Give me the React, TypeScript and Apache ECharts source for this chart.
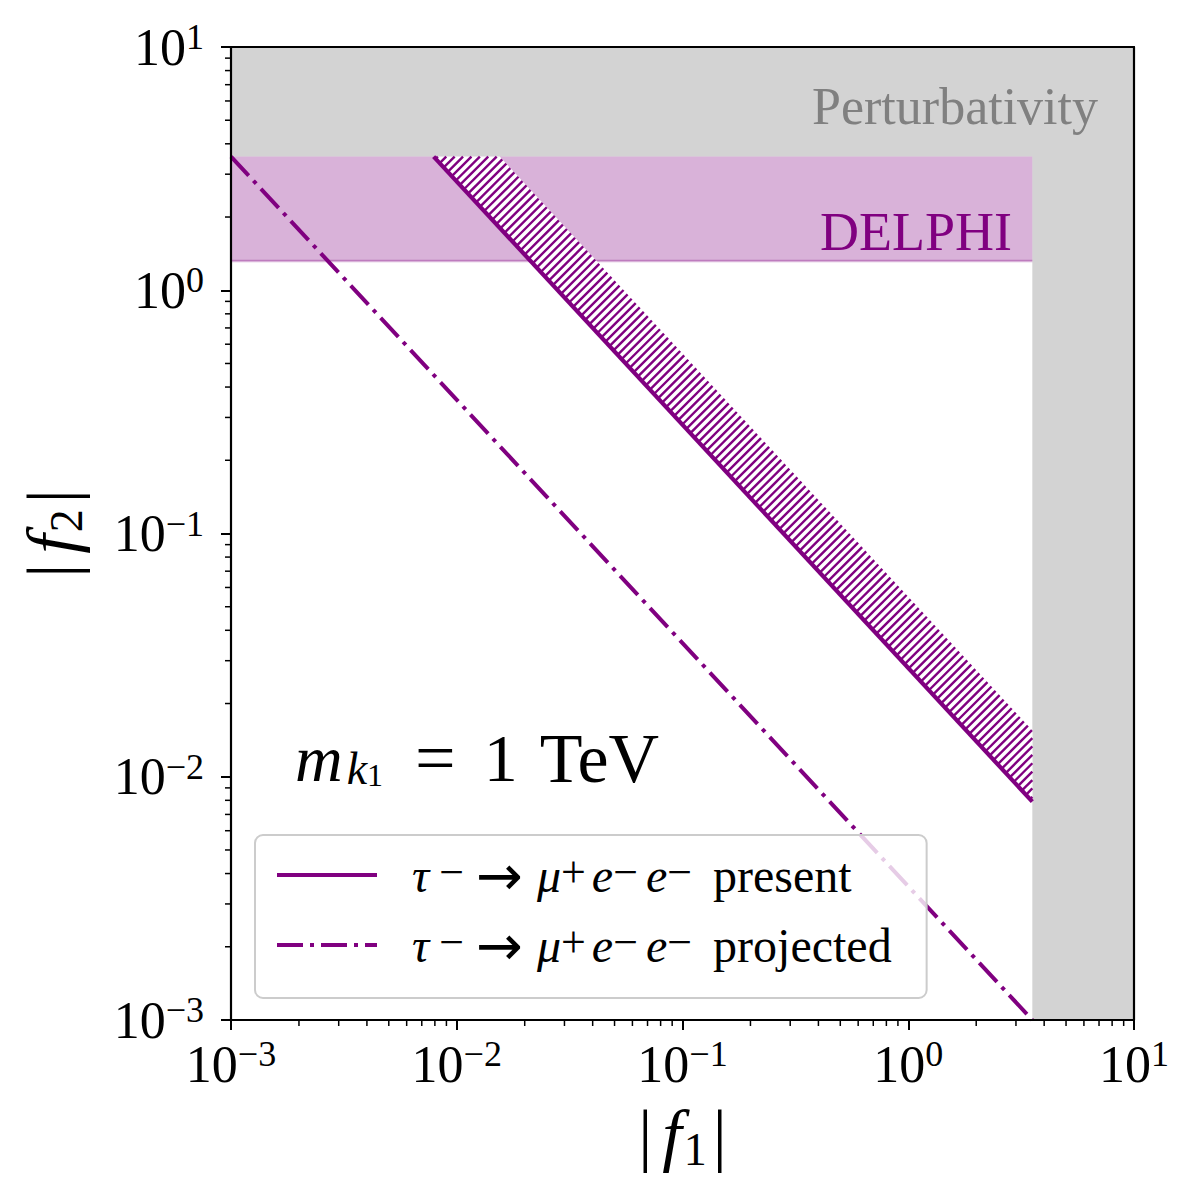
import React, { useEffect, useRef } from "react";
import * as echarts from "echarts";

// ---- data ----
const axisMin = 1e-3;
const axisMax = 1e1;
const perturbRegion: number[][] = [
  [1e-3, 3.545], [3.545, 3.545], [3.545, 1e-3], [10, 1e-3], [10, 10], [1e-3, 10],
];
const delphiRegion: number[][] = [
  [1e-3, 1.32], [3.545, 1.32], [3.545, 3.545], [1e-3, 3.545],
];
const presentLine: number[][] = [[0.0079, 3.545], [3.545, 0.0079]];
const hatchUpperEdge: number[][] = [[0.0155, 3.545], [3.545, 0.0155]];
const projectedLine: number[][] = [[1e-3, 3.545], [3.545, 1e-3]];
const hatchRegion: number[][] = [presentLine[0], hatchUpperEdge[0], hatchUpperEdge[1], presentLine[1]];
const decades = [1e-3, 1e-2, 1e-1, 1, 10];
const minorMultipliers = [2, 3, 4, 5, 6, 7, 8, 9];
const minorTicks = decades.slice(0, -1).flatMap((d) => minorMultipliers.map((m) => m * d));
const seriesNames = ["τ⁻ → μ⁺e⁻e⁻ present", "τ⁻ → μ⁺e⁻e⁻ projected"];
const legendSuffix = ["present", "projected"];

const PURPLE = "#800080";
const FONT = "Liberation Serif";

function polygonSeries(name: string, pts: number[][], style: any, z: number, bottomEdge?: any) {
  return {
    type: "custom",
    name,
    data: pts,
    z,
    silent: true,
    renderItem: (params: any, api: any) => {
      if (params.dataIndex !== 0) return null;
      const points = pts.map((p) => api.coord(p));
      const children: any[] = [{ type: "polygon", shape: { points }, style }];
      if (bottomEdge) {
        children.push({
          type: "line",
          shape: { x1: points[0][0], y1: points[0][1], x2: points[1][0], y2: points[1][1] },
          style: bottomEdge,
        });
      }
      return { type: "group", children };
    },
  };
}

function hatchSeries() {
  const step = 8.4;
  return {
    type: "custom",
    name: "hatch",
    data: hatchRegion,
    z: 3,
    silent: true,
    renderItem: (params: any, api: any) => {
      if (params.dataIndex !== 0) return null;
      const pts: number[][] = hatchRegion.map((p) => api.coord(p));
      const sums = pts.map((p) => p[0] + p[1]);
      const cMin = Math.min(...sums);
      const cMax = Math.max(...sums);
      const children: any[] = [
        { type: "polygon", shape: { points: pts }, style: { fill: "#ffffff" } },
      ];
      for (let c = cMin + step / 2; c < cMax; c += step) {
        const hits: number[][] = [];
        for (let i = 0; i < pts.length; i++) {
          const a = pts[i];
          const b = pts[(i + 1) % pts.length];
          const sa = a[0] + a[1] - c;
          const sb = b[0] + b[1] - c;
          if ((sa <= 0 && sb > 0) || (sa > 0 && sb <= 0)) {
            const t = sa / (sa - sb);
            hits.push([a[0] + (b[0] - a[0]) * t, a[1] + (b[1] - a[1]) * t]);
          }
        }
        if (hits.length >= 2) {
          hits.sort((u, v) => u[0] - v[0]);
          const h0 = hits[0];
          const h1 = hits[hits.length - 1];
          children.push({
            type: "line",
            shape: { x1: h0[0], y1: h0[1], x2: h1[0], y2: h1[1] },
            style: { stroke: PURPLE, lineWidth: 2.4 },
          });
        }
      }
      return { type: "group", children };
    },
  };
}

function minorTickSeries(axis: "x" | "y") {
  return {
    type: "custom",
    name: "minor-" + axis,
    data: minorTicks.map((v) => (axis === "x" ? [v, axisMin] : [axisMin, v])),
    z: 20,
    silent: true,
    clip: false,
    renderItem: (params: any, api: any) => {
      const p = api.coord([api.value(0), api.value(1)]);
      const shape =
        axis === "x"
          ? { x1: p[0], y1: p[1], x2: p[0], y2: p[1] + 6 }
          : { x1: p[0] - 6, y1: p[1], x2: p[0], y2: p[1] };
      return { type: "line", shape, style: { stroke: "#000", lineWidth: 1.5 } };
    },
  };
}

const tickRich = {
  b: { fontFamily: FONT, fontSize: 52, lineHeight: 56, color: "#000" },
  s: { fontFamily: FONT, fontSize: 36, lineHeight: 26, verticalAlign: "top", color: "#000" },
};
const tickFormatter = (v: number) => {
  const e = Math.round(Math.log10(v));
  return `{b|10}{s|${e < 0 ? "−" : ""}${Math.abs(e)}}`;
};

const nameRich = {
  b: { fontFamily: FONT, fontSize: 70, lineHeight: 76, color: "#000" },
  i: { fontFamily: FONT, fontSize: 70, lineHeight: 76, fontStyle: "italic", color: "#000", padding: [0, 2, 0, 10] },
  sub: { fontFamily: FONT, fontSize: 46, lineHeight: 40, verticalAlign: "bottom", color: "#000", padding: [0, 6, 0, 0] },
};

const LG = 48;
const SUP = 44;
const legendRich = {
  sp: { width: 30, fontSize: LG, lineHeight: 50 },
  i: { fontFamily: FONT, fontSize: LG, lineHeight: 50, fontStyle: "italic", color: "#000" },
  im: { fontFamily: FONT, fontSize: LG, lineHeight: 50, fontStyle: "italic", color: "#000", padding: [0, 0, 0, 14] },
  ie: { fontFamily: FONT, fontSize: LG, lineHeight: 50, fontStyle: "italic", color: "#000", padding: [0, 0, 0, 6] },
  ie2: { fontFamily: FONT, fontSize: LG, lineHeight: 50, fontStyle: "italic", color: "#000", padding: [0, 0, 0, 8] },
  ar: { fontFamily: "DejaVu Sans", fontSize: 56, lineHeight: 50, color: "#000", padding: [0, 0, 0, 12] },
  s: { fontFamily: FONT, fontSize: SUP, lineHeight: 18, verticalAlign: "top", color: "#000" },
  sm: { fontFamily: FONT, fontSize: SUP, lineHeight: 18, verticalAlign: "top", color: "#000", padding: [0, 0, 0, 10] },
  r: { fontFamily: FONT, fontSize: LG, lineHeight: 50, color: "#000", padding: [0, 0, 0, 21] },
};

export default function App() {
  const ref = useRef<HTMLDivElement>(null);
  useEffect(() => {
    if (!ref.current) return;
    const chart = echarts.init(ref.current, undefined, { renderer: "svg" });
    const axisCommon = {
      type: "log",
      min: axisMin,
      max: axisMax,
      logBase: 10,
      splitLine: { show: false },
      z: 10,
    };
    const spine = { onZero: false, lineStyle: { color: "#000", width: 2.2 } };
    chart.setOption({
      animation: false,
      backgroundColor: "#ffffff",
      grid: { left: 231, top: 47, width: 903, height: 973 },
      xAxis: [
        {
          ...axisCommon,
          position: "bottom",
          axisLine: spine,
          axisTick: { show: true, inside: false, length: 10, lineStyle: { color: "#000", width: 2 } },
          axisLabel: { margin: 16, formatter: tickFormatter, rich: tickRich },
          name: "{b||}{i|f}{sub|1}{b||}",
          nameLocation: "middle",
          nameGap: 76,
          nameTextStyle: { rich: nameRich },
        },
        {
          ...axisCommon,
          position: "top",
          axisLine: spine,
          axisTick: { show: false },
          axisLabel: { show: false },
        },
      ],
      yAxis: [
        {
          ...axisCommon,
          position: "left",
          axisLine: spine,
          axisTick: { show: true, inside: false, length: 10, lineStyle: { color: "#000", width: 2 } },
          axisLabel: { margin: 27, formatter: tickFormatter, rich: tickRich },
          name: "{b||}{i|f}{sub|2}{b||}",
          nameLocation: "middle",
          nameRotate: 90,
          nameGap: 142,
          nameTextStyle: { rich: nameRich },
        },
        {
          ...axisCommon,
          position: "right",
          axisLine: spine,
          axisTick: { show: false },
          axisLabel: { show: false },
        },
      ],
      legend: {
        data: seriesNames,
        orient: "vertical",
        left: 255,
        top: 835,
        itemWidth: 100,
        itemHeight: 20,
        itemGap: 14,
        padding: [12, 35, 25, 20],
        backgroundColor: "rgba(255,255,255,0.8)",
        borderColor: "#cccccc",
        borderWidth: 2,
        borderRadius: 8,
        z: 30,
        itemStyle: { color: "rgba(0,0,0,0)", borderColor: "rgba(0,0,0,0)", borderWidth: 0 },
        lineStyle: { width: 4 },
        formatter: (name: string) => {
          const idx = seriesNames.indexOf(name);
          return `{sp| }{i|τ}{sm|−}{ar|→}{im|μ}{s|+}{ie|e}{s|−}{ie2|e}{s|−}{r|${legendSuffix[idx]}}`;
        },
        textStyle: {
          fontFamily: FONT,
          fontSize: LG,
          lineHeight: 50,
          color: "#000",
          rich: legendRich,
        },
      },
      graphic: [
        {
          type: "text",
          right: 1200 - 1098,
          top: 80,
          z: 30,
          style: { text: "Perturbativity", fill: "#808080", font: `52px "${FONT}"` },
        },
        {
          type: "text",
          right: 1200 - 1012,
          top: 205,
          z: 30,
          style: { text: "DELPHI", fill: PURPLE, font: `54px "${FONT}"` },
        },
        {
          type: "text",
          left: 295,
          top: 722,
          z: 30,
          style: {
            text: "{i|m}{sub|k}{subsub|1}{eq|=}{one|1}{tev|TeV}",
            rich: {
              i: { fontFamily: FONT, fontSize: 66, lineHeight: 66, fontStyle: "italic", fill: "#000" },
              sub: { fontFamily: FONT, fontSize: 46, lineHeight: 10, verticalAlign: "bottom", fontStyle: "italic", fill: "#000", padding: [0, 0, 0, 4] },
              subsub: { fontFamily: FONT, fontSize: 32, lineHeight: 2, verticalAlign: "bottom", fill: "#000" },
              eq: { fontFamily: FONT, fontSize: 72, lineHeight: 66, fill: "#000", padding: [0, 0, 0, 32] },
              one: { fontFamily: FONT, fontSize: 68, lineHeight: 66, fill: "#000", padding: [0, 0, 0, 28] },
              tev: { fontFamily: FONT, fontSize: 70, lineHeight: 66, fill: "#000", padding: [0, 0, 0, 22] },
            },
          },
        },
      ],
      series: [
        polygonSeries("Perturbativity", perturbRegion, { fill: "#d3d3d3" }, 1),
        polygonSeries(
          "DELPHI",
          delphiRegion,
          { fill: "rgba(128,0,128,0.3)" },
          2,
          { stroke: "rgba(128,0,128,0.3)", lineWidth: 2.5 }
        ),
        hatchSeries(),
        {
          type: "line",
          name: seriesNames[0],
          data: presentLine,
          symbol: "none",
          z: 5,
          color: PURPLE,
          lineStyle: { color: PURPLE, width: 4.2 },
        },
        {
          type: "line",
          name: seriesNames[1],
          data: projectedLine,
          symbol: "none",
          z: 5,
          color: PURPLE,
          lineStyle: { color: PURPLE, width: 4, type: [26, 7, 4, 7] },
        },
        minorTickSeries("x"),
        minorTickSeries("y"),
      ],
    });
    return () => chart.dispose();
  }, []);
  return (
    <div
      ref={ref}
      style={{ position: "fixed", left: 0, top: 0, width: 1200, height: 1200 }}
    />
  );
}
